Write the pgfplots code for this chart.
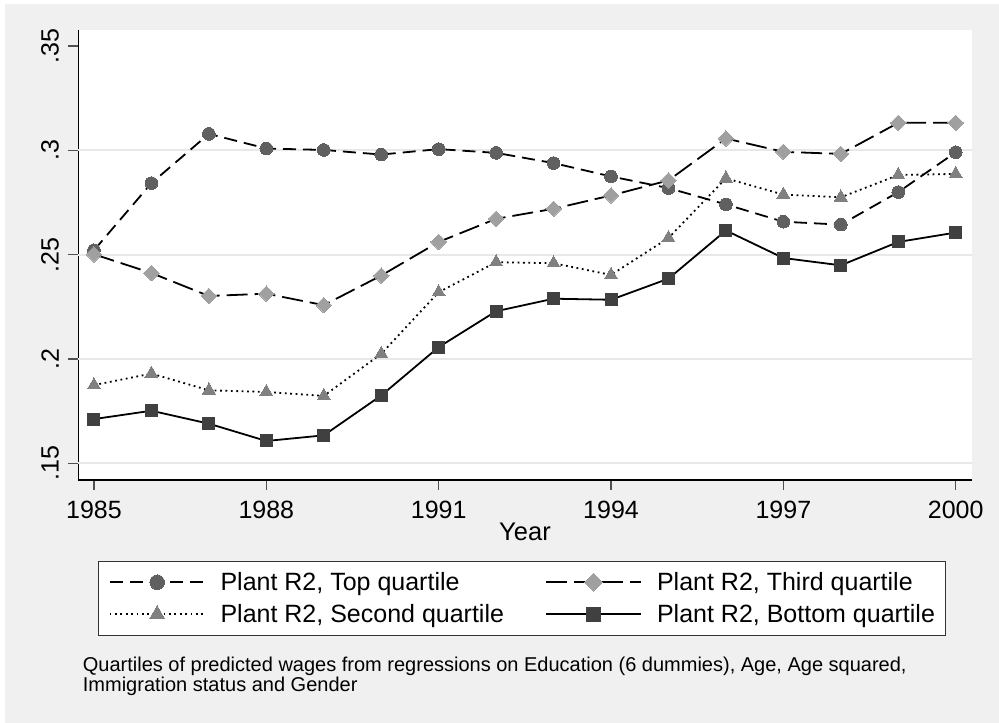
\documentclass[border=0pt]{standalone}
\usepackage{fontspec}
\setmainfont{Liberation Sans}
\usepackage{pgfplots}
\pgfplotsset{compat=1.18}
\definecolor{bggray}{RGB}{240,240,240}
\definecolor{gridgray}{RGB}{232,232,232}
\definecolor{ctop}{RGB}{96,96,96}
\definecolor{cthird}{RGB}{160,160,160}
\definecolor{csecond}{RGB}{128,128,128}
\definecolor{cbottom}{RGB}{64,64,64}
\definecolor{tickgray}{RGB}{80,80,80}
\begin{document}
\begin{tikzpicture}[x=1pt,y=1pt]
\fill[white] (0,0) rectangle (999,723);
\fill[bggray] (5,0) rectangle (999,719);
\begin{axis}[
  at={(78.3pt,243pt)}, anchor=south west,
  scale only axis, width=893.4pt, height=450pt,
  xmin=1984.727, xmax=2000.278,
  ymin=0.1420, ymax=0.3577,
  axis background/.style={fill=white},
  axis lines=left,
  axis line style={-, black, line width=1.3pt},
  tick align=outside,
  major tick length=10pt,
  tick style={line width=1.3pt, color=tickgray},
  xtick={1985,1988,1991,1994,1997,2000},
  xticklabels={1985,1988,1991,1994,1997,2000},
  ytick={0.15,0.2,0.25,0.3,0.35},
  yticklabels={.15,.2,.25,.3,.35},
  minor tick num=0,
  extra y ticks={0.15,0.2,0.25,0.3},
  extra y tick labels={},
  extra y tick style={grid=major, major grid style={gridgray, line width=2pt}, tick style={draw=none}},
  ticklabel style={font=\fontsize{25}{30}\selectfont, inner sep=0pt},
  xticklabel style={anchor=north, yshift=-10.5pt},
  yticklabel style={xshift=-9.3pt, rotate=90, anchor=south},
  xlabel={Year},
  xlabel style={font=\fontsize{25.5}{30}\selectfont, at={(axis description cs:0.5,0)}, anchor=north, inner sep=0pt, yshift=-43pt},
  clip=false,
  legend columns=2,
  legend style={at={(0.02239,-0.17933)}, anchor=north west,
    draw=black!80, line width=0.9pt, fill=white,
    font=\fontsize{25}{30}\selectfont,
    inner xsep=10pt, inner ysep=11.25pt, row sep=12.5pt,
    nodes={inner sep=0pt, anchor=west},
    /tikz/every odd column/.append style={column sep=15pt},
    /tikz/every even column/.append style={column sep=41.2pt}},
  legend image code/.code={\draw[mark repeat=2,mark phase=2,#1,every mark/.append style={scale=1.15}] plot coordinates {(0pt,0pt)(47.5pt,0pt)(95pt,0pt)};},
]
\addplot[black, line width=1.8pt, dash pattern=on 13pt off 7pt,
  mark=*, mark size=6.35pt, mark options={solid, draw=ctop, fill=ctop, line width=0pt}]
  coordinates {(1985,0.2521)(1986,0.2843)(1987,0.3079)(1988,0.3009)(1989,0.3002)(1990,0.2980)(1991,0.3006)(1992,0.2988)(1993,0.2939)(1994,0.2875)(1995,0.2819)(1996,0.2741)(1997,0.2658)(1998,0.2644)(1999,0.2800)(2000,0.2991)};
\addlegendentry{Plant R2, Top quartile}
\addplot[black, line width=1.8pt, dash pattern=on 21pt off 7pt,
  mark=square*, mark size=5.5pt, mark options={solid, rotate=45, draw=cthird, fill=cthird, line width=0pt}]
  coordinates {(1985,0.2502)(1986,0.2412)(1987,0.2302)(1988,0.2313)(1989,0.2258)(1990,0.2400)(1991,0.2561)(1992,0.2672)(1993,0.2720)(1994,0.2784)(1995,0.2856)(1996,0.3057)(1997,0.2993)(1998,0.2983)(1999,0.3132)(2000,0.3132)};
\addlegendentry{Plant R2, Third quartile}
\addplot[black, line width=1.8pt, dash pattern=on 1.8pt off 3.6pt,
  mark=triangle*, mark size=7.5pt, mark options={solid, draw=csecond, fill=csecond, line width=0pt}]
  coordinates {(1985,0.1875)(1986,0.1930)(1987,0.1850)(1988,0.1842)(1989,0.1823)(1990,0.2025)(1991,0.2320)(1992,0.2464)(1993,0.2459)(1994,0.2403)(1995,0.2580)(1996,0.2866)(1997,0.2788)(1998,0.2775)(1999,0.2882)(2000,0.2887)};
\addlegendentry{Plant R2, Second quartile}
\addplot[black, line width=1.8pt, solid,
  mark=square*, mark size=6pt, mark options={solid, draw=cbottom, fill=cbottom, line width=0pt}]
  coordinates {(1985,0.1712)(1986,0.1752)(1987,0.1690)(1988,0.1607)(1989,0.1634)(1990,0.1825)(1991,0.2057)(1992,0.2229)(1993,0.2289)(1994,0.2284)(1995,0.2385)(1996,0.2616)(1997,0.2484)(1998,0.2449)(1999,0.2561)(2000,0.2606)};
\addlegendentry{Plant R2, Bottom quartile}
\end{axis}
\node[anchor=north west, inner sep=0pt, align=left, font=\fontsize{20}{20.6}\selectfont] at (82.7,66.5)
  {Quartiles of predicted wages from regressions on Education (6 dummies), Age, Age squared,\\Immigration status and Gender};
\pgfresetboundingbox
\path (0,0) rectangle (999,723);
\end{tikzpicture}
\end{document}
